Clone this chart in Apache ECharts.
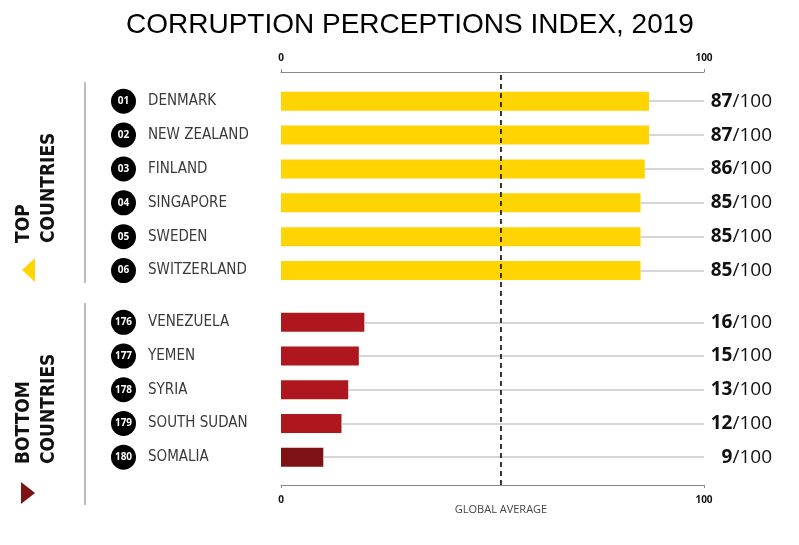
<!DOCTYPE html>
<html>
<head>
<meta charset="utf-8">
<script src="https://cdn.jsdelivr.net/npm/echarts@6/dist/echarts.min.js"></script>
<style>
    html, body { margin: 0; padding: 0; background: #fff; }
    #chart { width: 799px; height: 545px; }
</style>
</head>
<body>
<div id="chart"></div>
<script>
const titleText = 'CORRUPTION PERCEPTIONS INDEX, 2019';

const topRanks = ['01', '02', '03', '04', '05', '06'];
const topCountries = ['DENMARK', 'NEW ZEALAND', 'FINLAND', 'SINGAPORE', 'SWEDEN', 'SWITZERLAND'];
const topScores = [87, 87, 86, 85, 85, 85];

const bottomRanks = ['176', '177', '178', '179', '180'];
const bottomCountries = ['VENEZUELA', 'YEMEN', 'SYRIA', 'SOUTH SUDAN', 'SOMALIA'];
const bottomScores = [16, 15, 13, 12, 9];
// bar lengths as drawn in the picture (slightly longer than the scores)
const bottomBars = [19.7, 18.4, 15.9, 14.3, 10];

const globalAverage = 52;
const scaleMax = 100;

const YELLOW = '#FFD400';
const RED = '#AE171D';
const DARK_RED = '#7E1114';
const NAME_FONT = '"Liberation Sans Narrow", "DejaVu Sans Condensed", sans-serif';
const NUM_FONT = '"Open Sans", "Noto Sans", sans-serif';

const GRID_LEFT = 281;
const GRID_RIGHT = 95;

function leftLabels(ranks) {
    return {
        show: true,
        align: 'left',
        margin: GRID_LEFT - 111,
        formatter: (v, i) => '{n|' + ranks[i] + '}{c|' + v + '}',
        rich: {
            n: {
                width: 25, height: 25, lineHeight: 25, borderRadius: 13,
                backgroundColor: '#000', color: '#fff', align: 'center',
                fontFamily: NUM_FONT, fontWeight: 'bold', fontSize: 10
            },
            c: {
                color: '#3a3a3a', fontFamily: NAME_FONT, fontSize: 15,
                padding: [0, 0, 0, 12]
            }
        }
    };
}

function rightLabels() {
    return {
        show: true,
        align: 'right',
        margin: 68,
        formatter: v => '{b|' + v + '}{r|/100}',
        rich: {
            b: { fontFamily: NUM_FONT, fontWeight: 'bold', fontSize: 19, color: '#111' },
            r: { fontFamily: NUM_FONT, fontSize: 19, color: '#111' }
        }
    };
}

function valueAxis(gridIndex, position, offset, margin) {
    return {
        type: 'value', gridIndex: gridIndex, position: position, offset: offset,
        min: 0, max: scaleMax, interval: scaleMax,
        axisLine: { show: true, lineStyle: { color: '#888', width: 1 } },
        axisTick: { show: true, length: 3, lineStyle: { color: '#888' } },
        axisLabel: { margin: margin, fontFamily: NUM_FONT, fontWeight: 'bold', fontSize: 10, color: '#111' },
        splitLine: { show: false }
    };
}

function catAxis(gridIndex, data, position, label) {
    return {
        type: 'category', gridIndex: gridIndex, data: data, inverse: true, position: position,
        axisLine: { show: false }, axisTick: { show: false },
        axisLabel: label
    };
}

function guideLines(cats, values) {
    return cats.map((c, i) => [
        { coord: [values[i], c] },
        { coord: [scaleMax, c] }
    ]);
}

function sideText(x, y, text) {
    return {
        type: 'text', x: x, y: y, rotation: Math.PI / 2,
        style: {
            text: text, fontFamily: NAME_FONT, fontWeight: 'bold', fontSize: 19,
            fill: '#111', align: 'left', verticalAlign: 'middle'
        }
    };
}

const chart = echarts.init(document.getElementById('chart'));

chart.setOption({
    backgroundColor: '#fff',
    animation: false,
    title: {
        text: titleText, left: 121, top: 6,
        textStyle: { fontFamily: '"Liberation Sans", Arial, sans-serif', fontWeight: 'normal', fontSize: 28, color: '#000' }
    },
    grid: [
        { left: GRID_LEFT, right: GRID_RIGHT, top: 84.3, height: 203.2 },
        { left: GRID_LEFT, right: GRID_RIGHT, top: 305.5, height: 168.5 },
        { left: GRID_LEFT, right: GRID_RIGHT, top: 72, bottom: 60 }
    ],
    xAxis: [
        valueAxis(0, 'top', 12.3, 9),
        valueAxis(1, 'bottom', 11, 10),
        { type: 'value', gridIndex: 2, min: 0, max: scaleMax, show: false }
    ],
    yAxis: [
        catAxis(0, topCountries, 'left', leftLabels(topRanks)),
        catAxis(0, topScores, 'right', rightLabels()),
        catAxis(1, bottomCountries, 'left', leftLabels(bottomRanks)),
        catAxis(1, bottomScores, 'right', rightLabels()),
        { type: 'value', gridIndex: 2, min: 0, max: 1, show: false }
    ],
    series: [
        {
            type: 'bar', xAxisIndex: 0, yAxisIndex: 0, barWidth: 19,
            itemStyle: { color: YELLOW },
            data: topScores,
            markLine: {
                silent: true, symbol: ['none', 'none'], label: { show: false },
                lineStyle: { color: '#c8c8c8', width: 1.5, type: 'solid' },
                data: guideLines(topCountries, topScores)
            }
        },
        {
            type: 'bar', xAxisIndex: 1, yAxisIndex: 2, barWidth: 19,
            data: bottomBars.map((v, i) => ({
                value: v,
                itemStyle: { color: i === bottomBars.length - 1 ? DARK_RED : RED }
            })),
            markLine: {
                silent: true, symbol: ['none', 'none'], label: { show: false },
                lineStyle: { color: '#c8c8c8', width: 1.5, type: 'solid' },
                data: guideLines(bottomCountries, bottomBars)
            }
        },
        {
            type: 'line', xAxisIndex: 2, yAxisIndex: 4, showSymbol: false, z: 5,
            lineStyle: { color: '#333', width: 2, type: [5, 4] },
            data: [[globalAverage, 0], [globalAverage, 1]]
        }
    ],
    graphic: [
        { type: 'line', shape: { x1: 85, y1: 82, x2: 85, y2: 283 }, style: { stroke: '#bdbdbd', lineWidth: 2 } },
        { type: 'line', shape: { x1: 85, y1: 303, x2: 85, y2: 505 }, style: { stroke: '#bdbdbd', lineWidth: 2 } },
        sideText(24, 243, 'TOP'),
        sideText(49, 243, 'COUNTRIES'),
        sideText(24, 464, 'BOTTOM'),
        sideText(49, 464, 'COUNTRIES'),
        { type: 'polygon', shape: { points: [[22, 270], [35, 258], [35, 282]] }, style: { fill: YELLOW } },
        { type: 'polygon', shape: { points: [[21, 482], [35, 493], [21, 504]] }, style: { fill: DARK_RED } },
        {
            type: 'text', x: 501, y: 510,
            style: { text: 'GLOBAL AVERAGE', fontFamily: NUM_FONT, fontSize: 11, fill: '#444', align: 'center', verticalAlign: 'middle' }
        }
    ]
});
</script>
</body>
</html>
